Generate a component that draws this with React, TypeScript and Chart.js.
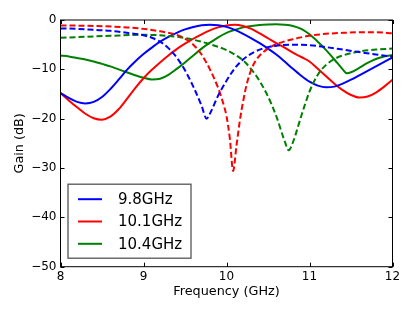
import React, { useEffect, useRef } from "react";
import { Chart, registerables } from "chart.js";

Chart.register(...registerables);

// ---- data ----
const freqBlue = [8.0, 8.1, 8.2, 8.3, 8.4, 8.5, 8.6, 8.7, 8.8, 8.9, 9.0, 9.1, 9.2, 9.3, 9.4, 9.5, 9.6, 9.7, 9.8, 9.9, 10.0, 10.1, 10.2, 10.3, 10.4, 10.5, 10.6, 10.7, 10.8, 10.9, 11.0, 11.1, 11.2, 11.3, 11.4, 11.5, 11.6, 11.7, 11.8, 11.9, 12.0];
const gainBlue = [-14.8, -15.8, -16.6, -16.9, -16.6, -15.6, -14.0, -12.1, -10.1, -8.4, -6.9, -5.6, -4.4, -3.4, -2.6, -1.9, -1.4, -1.05, -0.95, -1.05, -1.4, -2.0, -2.8, -3.7, -4.7, -5.8, -7.0, -8.4, -9.9, -11.3, -12.5, -13.3, -13.65, -13.5, -12.9, -12.1, -11.2, -10.3, -9.4, -8.5, -7.6];

const freqRed = [8.0, 8.1, 8.2, 8.3, 8.4, 8.5, 8.6, 8.7, 8.8, 8.9, 9.0, 9.1, 9.2, 9.3, 9.4, 9.5, 9.6, 9.7, 9.8, 9.9, 10.0, 10.1, 10.2, 10.3, 10.4, 10.5, 10.6, 10.7, 10.8, 10.9, 11.0, 11.1, 11.2, 11.3, 11.4, 11.5, 11.6, 11.7, 11.8, 11.9, 12.0];
const gainRed = [-14.8, -16.3, -17.7, -19.0, -19.9, -20.2, -19.6, -18.1, -16.0, -13.8, -11.8, -10.1, -8.6, -7.2, -5.9, -4.8, -3.8, -2.9, -2.1, -1.5, -1.1, -0.95, -1.2, -1.8, -2.7, -3.7, -4.7, -5.6, -6.6, -7.5, -8.4, -9.9, -11.4, -12.9, -14.2, -15.2, -15.7, -15.5, -14.7, -13.5, -12.1];

const freqGreen = [8.0, 8.1, 8.2, 8.3, 8.4, 8.5, 8.6, 8.7, 8.8, 8.9, 9.0, 9.1, 9.2, 9.3, 9.4, 9.5, 9.6, 9.7, 9.8, 9.9, 10.0, 10.1, 10.2, 10.3, 10.4, 10.5, 10.6, 10.7, 10.8, 10.9, 11.0, 11.1, 11.2, 11.3, 11.4, 11.45, 11.5, 11.6, 11.7, 11.8, 11.9, 12.0];
const gainGreen = [-7.2, -7.4, -7.7, -8.0, -8.4, -8.9, -9.4, -10.0, -10.6, -11.2, -11.7, -12.05, -11.9, -11.1, -9.9, -8.6, -7.2, -5.8, -4.6, -3.5, -2.6, -2.0, -1.5, -1.2, -1.0, -0.9, -0.85, -0.95, -1.2, -1.8, -2.9, -4.4, -6.1, -8.0, -10.0, -10.8, -10.6, -9.7, -8.7, -7.9, -7.4, -7.1];

const freqBlueDash = [8.0, 8.2, 8.4, 8.6, 8.8, 9.0, 9.1, 9.2, 9.3, 9.4, 9.5, 9.6, 9.7, 9.76, 9.8, 9.9, 10.0, 10.1, 10.2, 10.3, 10.4, 10.5, 10.6, 10.8, 11.0, 11.2, 11.4, 11.6, 11.8, 12.0];
const gainBlueDash = [-1.7, -1.8, -2.0, -2.2, -2.6, -3.1, -3.6, -4.4, -5.7, -7.6, -10.2, -13.5, -17.4, -20.0, -19.0, -15.3, -12.3, -9.8, -8.0, -6.8, -6.0, -5.5, -5.2, -5.0, -5.1, -5.5, -6.0, -6.5, -7.0, -7.4];

const freqRedDash = [8.0, 8.4, 8.8, 9.0, 9.2, 9.4, 9.5, 9.6, 9.7, 9.8, 9.9, 9.95, 10.0, 10.04, 10.08, 10.12, 10.16, 10.2, 10.25, 10.3, 10.35, 10.4, 10.5, 10.6, 10.8, 11.0, 11.2, 11.4, 11.6, 11.8, 12.0];
const gainRedDash = [-1.1, -1.2, -1.5, -1.8, -2.3, -3.0, -3.8, -5.0, -7.0, -10.0, -13.8, -16.3, -19.5, -24.0, -30.6, -25.5, -20.5, -16.5, -12.6, -10.0, -8.3, -7.2, -5.8, -4.9, -3.9, -3.2, -2.8, -2.6, -2.5, -2.5, -2.7];

const freqGreenDash = [8.0, 8.3, 8.6, 9.0, 9.2, 9.4, 9.6, 9.8, 10.0, 10.1, 10.2, 10.3, 10.4, 10.5, 10.6, 10.7, 10.75, 10.8, 10.9, 11.0, 11.1, 11.2, 11.3, 11.4, 11.6, 11.8, 12.0];
const gainGreenDash = [-3.6, -3.4, -3.2, -3.0, -3.1, -3.4, -4.0, -4.9, -6.1, -7.0, -8.2, -10.0, -12.4, -15.5, -19.5, -24.5, -26.4, -24.8, -19.5, -14.5, -11.1, -9.1, -7.9, -7.2, -6.4, -6.0, -5.8];

const legendLabels = ["9.8GHz", "10.1GHz", "10.4GHz"];
const xTicks = [8, 9, 10, 11, 12];
const yTicks = [0, -10, -20, -30, -40, -50];

const BLUE = "#0000ff";
const RED = "#ff0000";
const GREEN = "#008000";

const pts = (xs: number[], ys: number[]) => xs.map((x, i) => ({ x, y: ys[i] }));

const framePlugin = {
  id: "frameTicks",
  afterDatasetsDraw(chart: any) {
    const { ctx, chartArea } = chart;
    const { left, right, top, bottom } = chartArea;
    const xs = chart.scales.x;
    const ys = chart.scales.y;
    ctx.save();
    ctx.strokeStyle = "#000";
    ctx.lineWidth = 1;
    ctx.strokeRect(left, top, right - left, bottom - top);
    const tl = 4;
    ctx.beginPath();
    xTicks.forEach((v) => {
      const px = Math.round(xs.getPixelForValue(v)) + 0.5;
      ctx.moveTo(px, bottom);
      ctx.lineTo(px, bottom - tl);
      ctx.moveTo(px, top);
      ctx.lineTo(px, top + tl);
    });
    yTicks.forEach((v) => {
      const py = Math.round(ys.getPixelForValue(v)) + 0.5;
      ctx.moveTo(left, py);
      ctx.lineTo(left + tl, py);
      ctx.moveTo(right, py);
      ctx.lineTo(right - tl, py);
    });
    ctx.stroke();
    ctx.restore();
  },
  afterDraw(chart: any) {
    const { ctx, chartArea } = chart;
    const bx = chartArea.left + 7.5;
    const by = chartArea.bottom - 82.5;
    const bw = 123;
    const bh = 74;
    ctx.save();
    ctx.fillStyle = "#fff";
    ctx.fillRect(bx, by, bw, bh);
    ctx.strokeStyle = "#555";
    ctx.lineWidth = 1.3;
    ctx.strokeRect(bx, by, bw, bh);
    const labeled = chart.data.datasets.filter((d: any) => legendLabels.includes(d.label));
    ctx.font = "15px 'DejaVu Sans'";
    ctx.textBaseline = "middle";
    ctx.textAlign = "left";
    labeled.forEach((d: any, i: number) => {
      const y = by + 15 + i * 22.3;
      ctx.strokeStyle = d.borderColor;
      ctx.lineWidth = 2;
      ctx.setLineDash([]);
      ctx.beginPath();
      ctx.moveTo(bx + 10, y);
      ctx.lineTo(bx + 34, y);
      ctx.stroke();
      ctx.fillStyle = "#000";
      ctx.fillText(d.label, bx + 50, y + 1);
    });
    ctx.restore();
  },
};

export default function App() {
  const ref = useRef<HTMLCanvasElement | null>(null);
  useEffect(() => {
    if (!ref.current) return;
    Chart.defaults.font.family = "'DejaVu Sans'";
    Chart.defaults.color = "#000";
    const solid = (label: string, color: string, xs: number[], ys: number[]) => ({
      label,
      data: pts(xs, ys),
      borderColor: color,
      backgroundColor: color,
      borderWidth: 2,
      pointRadius: 0,
      showLine: true,
      fill: false,
      cubicInterpolationMode: "monotone" as const,
    });
    const dashed = (label: string, color: string, xs: number[], ys: number[]) => ({
      ...solid(label, color, xs, ys),
      borderDash: [6, 3],
    });
    const chart = new Chart(ref.current, {
      type: "scatter",
      data: {
        datasets: [
          dashed("b-dash", BLUE, freqBlueDash, gainBlueDash),
          dashed("r-dash", RED, freqRedDash, gainRedDash),
          dashed("g-dash", GREEN, freqGreenDash, gainGreenDash),
          solid(legendLabels[0], BLUE, freqBlue, gainBlue),
          solid(legendLabels[1], RED, freqRed, gainRed),
          solid(legendLabels[2], GREEN, freqGreen, gainGreen),
        ],
      },
      options: {
        animation: false,
        responsive: false,
        layout: { padding: { left: 0, top: 20, right: 22.5, bottom: 0 } },
        plugins: {
          legend: { display: false },
          tooltip: { enabled: false },
        },
        scales: {
          x: {
            type: "linear",
            min: 8,
            max: 12,
            afterFit: (s: any) => {
              s.height = 45.3;
            },
            afterBuildTicks: (s: any) => {
              s.ticks = xTicks.map((v) => ({ value: v }));
            },
            grid: { display: false, drawTicks: false },
            border: { display: false },
            ticks: { padding: 3, font: { size: 12 }, color: "#000" },
            title: {
              display: true,
              text: "Frequency (GHz)",
              font: { size: 12.8 },
              color: "#000",
              padding: { top: 0, bottom: 12.6 },
            },
          },
          y: {
            type: "linear",
            min: -50,
            max: 0,
            afterFit: (s: any) => {
              s.width = 60.5;
            },
            afterBuildTicks: (s: any) => {
              s.ticks = yTicks.map((v) => ({ value: v }));
            },
            grid: { display: false, drawTicks: false },
            border: { display: false },
            ticks: {
              padding: 4,
              font: { size: 12 },
              color: "#000",
              callback: (v: any) => String(v).replace("-", "\u2212"),
            },
            title: {
              display: true,
              text: "Gain (dB)",
              font: { size: 12.8 },
              color: "#000",
              padding: { top: 12.3, bottom: 0 },
            },
          },
        },
      },
      plugins: [framePlugin],
    });
    return () => chart.destroy();
  }, []);
  return (
    <div style={{ position: "absolute", left: 0, top: 0, width: 415, height: 312, background: "#fff" }}>
      <canvas ref={ref} width={415} height={312} />
    </div>
  );
}
